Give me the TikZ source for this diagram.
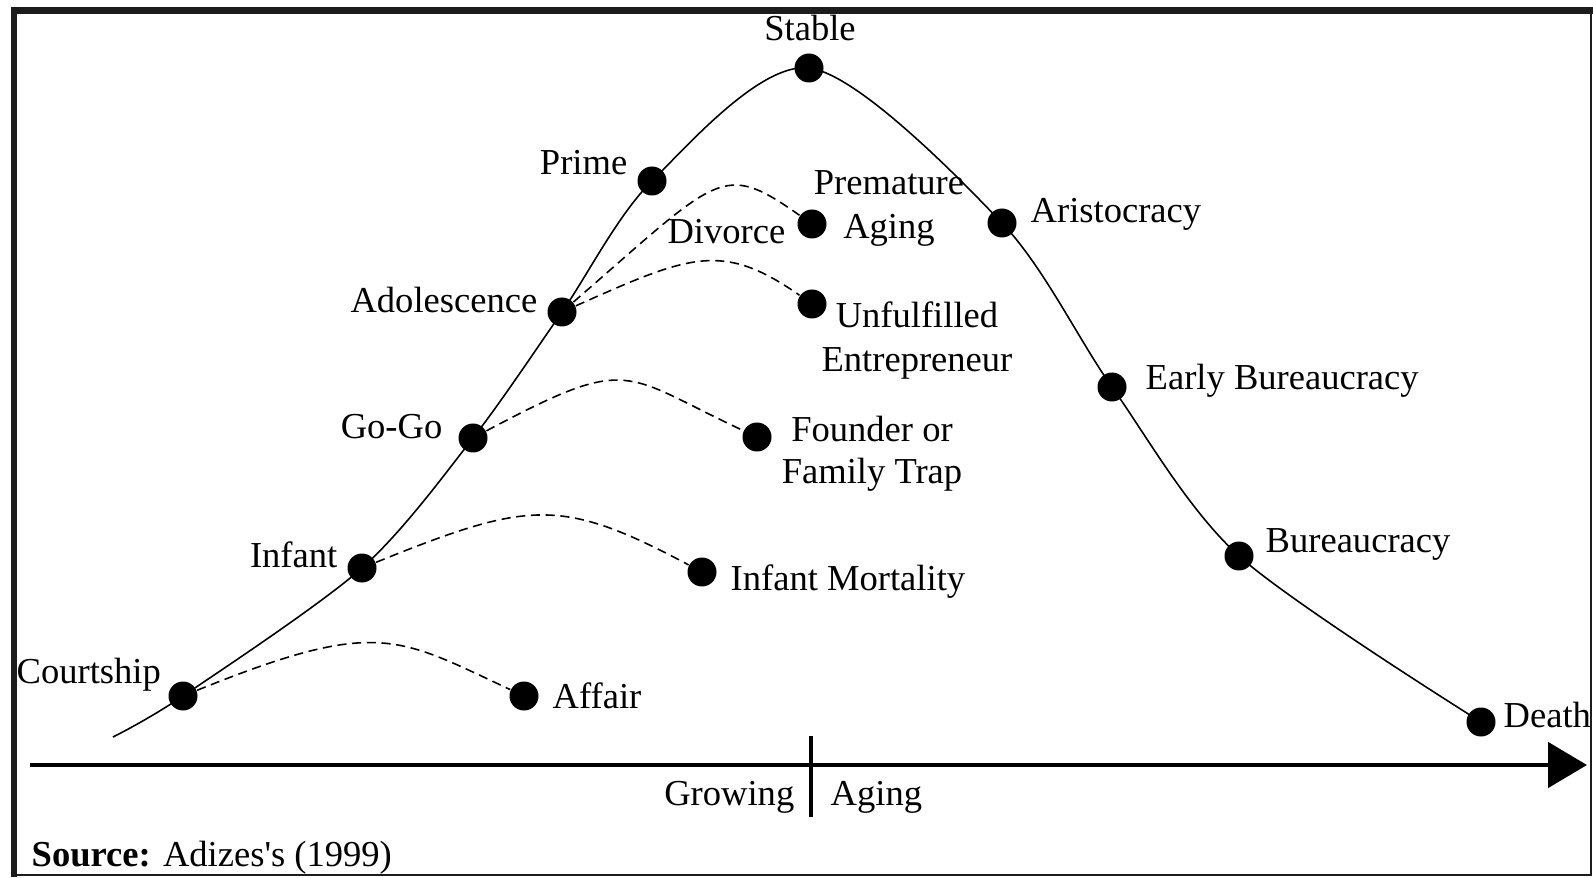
\documentclass[tikz,border=0pt]{standalone}
\usepackage{fontspec}
\setmainfont{Liberation Serif}
\usetikzlibrary{arrows.meta,positioning}
\definecolor{framegray}{HTML}{1C1C1C}
\tikzset{
  stage/.style={circle,fill=black,inner sep=0pt,minimum size=0.29cm},
  lbl/.style={inner sep=0pt,font=\fontsize{10.4}{12.8}\selectfont},
  life/.style={line width=0.45pt},
  trap/.style={line width=0.45pt,dash pattern=on 2.6pt off 1.6pt},
}
\begin{document}
\begin{tikzpicture}
    \useasboundingbox (0,0) rectangle (15.93,8.77);
    \fill[framegray] (0.11,8.63) rectangle (15.93,8.70);
    \fill[framegray] (0.11,0) rectangle (0.17,8.70);
    \draw[framegray,line width=0.7pt] (0.14,0.02) -- (15.91,0.02) -- (15.91,8.66);
    \coordinate (start) at (1.13,1.40);
    \foreach \n/\x/\y in {court/1.83/1.81,infant/3.62/3.09,gogo/4.73/4.39,adol/5.62/5.65,
        prime/6.52/6.96,stable/8.09/8.09,arist/10.02/6.54,early/11.12/4.90,
        bureau/12.39/3.21,death/14.81/1.55,affair/5.24/1.81,mortal/7.02/3.05,
        founder/7.57/4.40,unfulfil/8.12/5.73,premature/8.12/6.53}{
        \node[stage] (\n) at (\x,\y) {};
    }
    \draw[life] plot[smooth,tension=0.5] coordinates {(start) (court) (infant) (gogo) (adol) (prime) (stable) (arist) (early) (bureau) (death)};
    \draw[trap] (court) .. controls +(22:2.1) and +(155:1.4) .. (affair);
    \draw[trap] (infant) .. controls +(22:1.8) and +(152:1.6) .. (mortal);
    \draw[trap] (gogo) .. controls +(28:1.8) and +(155:1.5) .. (founder);
    \draw[trap] (adol) .. controls +(24:1.4) and +(145:1.1) .. (unfulfil);
    \draw[trap] (adol) .. controls +(41:2.1) and +(145:1.1) .. (premature);
    \coordinate (axisL) at (0.30,1.12);
    \coordinate (axisR) at (15.87,1.12);
    \coordinate (splitT) at (8.11,1.41);
    \coordinate (splitB) at (8.11,0.60);
    \draw[line width=1.4pt,-{Triangle[length=0.39cm,width=0.45cm]}] (axisL) -- (axisR);
    \draw[line width=1.1pt] (splitT) -- (splitB);
    \foreach \n/\a/\x/\y/\t in {stableL/base/8.10/8.36/Stable,primeL/base east/6.28/7.02/Prime,
        divorceL/base east/7.86/6.33/Divorce,aristL/base west/10.30/6.54/Aristocracy,
        adolL/base east/5.38/5.64/Adolescence,earlyL/base west/11.45/4.87/Early Bureaucracy,
        gogoL/base east/4.43/4.38/Go-Go,bureauL/base west/12.65/3.25/Bureaucracy,
        infantL/base east/3.38/3.09/Infant,mortalL/base west/7.30/2.87/Infant Mortality,
        courtL/base west/0.16/1.94/Courtship,affairL/base west/5.52/1.69/Affair,
        deathL/base west/15.03/1.50/Death,growL/base east/7.95/0.72/Growing,
        agingL/base west/8.30/0.72/Aging}{
        \node[lbl,anchor=\a] (\n) at (\x,\y) {\t};
    }
    \node[lbl,align=center,anchor=base] (prematureL) at (8.89,6.38) {Premature\\Aging};
    \node[lbl,align=center,anchor=base] (unfulfilL) at (9.17,5.05) {Unfulfilled\\Entrepreneur};
    \node[lbl,align=center,anchor=base,font=\fontsize{10.4}{11.9}\selectfont] (founderL) at (8.72,3.94) {Founder or\\Family Trap};
    \node[lbl,anchor=base west] (sourceL) at (0.31,0.11) {\textbf{Source:} Adizes\textquotesingle s (1999)};
\end{tikzpicture}
\end{document}
